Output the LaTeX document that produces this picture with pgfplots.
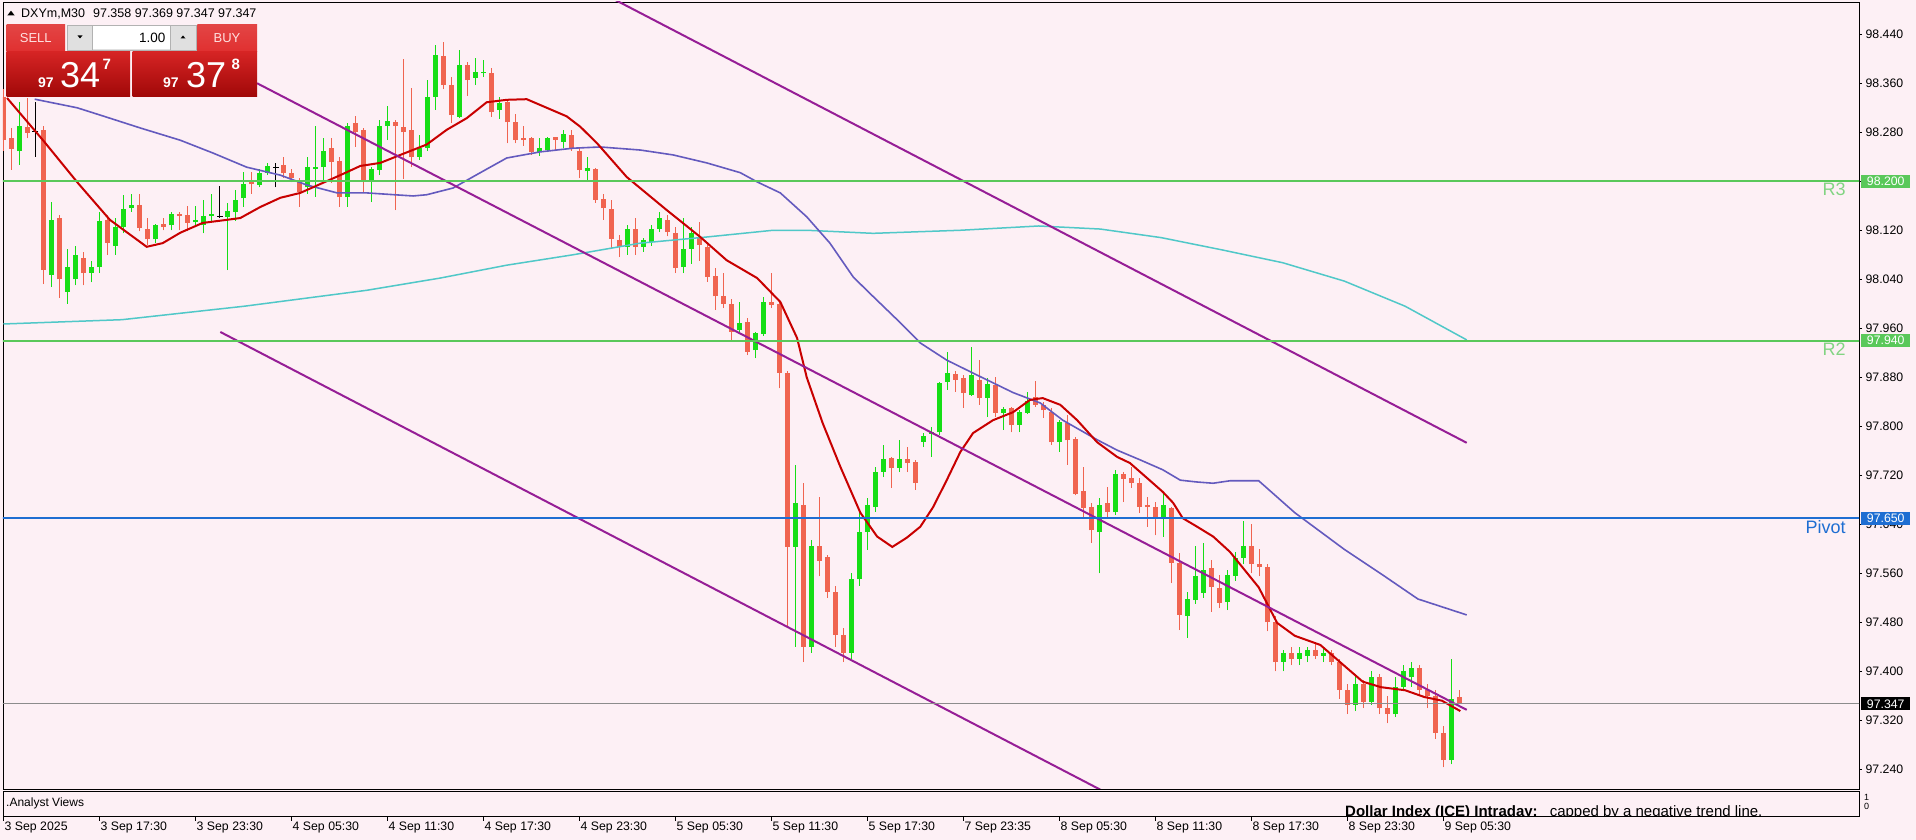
\documentclass[border=0pt]{standalone}
\usepackage{pgfplots}
\pgfplotsset{compat=1.18}
\usepackage{pgfplotstable}
\usepackage{fontspec}
\setmainfont{Liberation Sans}

\definecolor{bg}{RGB}{253,240,245}
\definecolor{bull}{RGB}{22,222,22}
\definecolor{bear}{RGB}{240,100,80}
\definecolor{maRed}{RGB}{200,0,0}
\definecolor{maBlue}{RGB}{100,90,190}
\definecolor{maCyan}{RGB}{80,200,200}
\definecolor{chan}{RGB}{150,30,150}
\definecolor{lvlGreen}{RGB}{90,200,90}
\definecolor{lvlText}{RGB}{130,212,130}
\definecolor{pivotBlue}{RGB}{30,110,210}
\definecolor{btnRed}{RGB}{224,48,48}

% DXYm M30 candles: index, open, high, low, close
\pgfplotstableread{
i o h l c
0 98.337 98.350 98.250 98.267
1 98.271 98.287 98.219 98.253
2 98.249 98.329 98.227 98.291
3 98.289 98.336 98.270 98.279
4 98.281 98.330 98.240 98.281
5 98.283 98.290 98.032 98.055
6 98.047 98.166 98.027 98.136
7 98.140 98.145 98.010 98.040
8 98.020 98.090 98.000 98.060
9 98.040 98.095 98.030 98.080
10 98.075 98.085 98.030 98.050
11 98.050 98.070 98.035 98.060
12 98.060 98.150 98.050 98.135
13 98.137 98.145 98.080 98.100
14 98.095 98.140 98.080 98.125
15 98.125 98.178 98.115 98.155
16 98.157 98.180 98.150 98.162
17 98.162 98.180 98.118 98.124
18 98.122 98.140 98.096 98.105
19 98.105 98.130 98.100 98.128
20 98.130 98.140 98.120 98.125
21 98.128 98.150 98.120 98.146
22 98.147 98.150 98.120 98.143
23 98.145 98.160 98.118 98.132
24 98.133 98.160 98.125 98.137
25 98.128 98.170 98.115 98.143
26 98.143 98.180 98.135 98.146
27 98.142 98.192 98.140 98.142
28 98.142 98.165 98.055 98.152
29 98.150 98.185 98.135 98.170
30 98.172 98.215 98.158 98.196
31 98.199 98.215 98.180 98.195
32 98.194 98.220 98.190 98.213
33 98.214 98.230 98.210 98.225
34 98.223 98.230 98.190 98.223
35 98.226 98.240 98.205 98.213
36 98.214 98.220 98.198 98.206
37 98.199 98.206 98.158 98.183
38 98.190 98.240 98.180 98.223
39 98.220 98.290 98.175 98.223
40 98.223 98.270 98.200 98.250
41 98.254 98.270 98.197 98.232
42 98.233 98.240 98.158 98.174
43 98.174 98.295 98.158 98.291
44 98.295 98.306 98.256 98.280
45 98.284 98.287 98.183 98.202
46 98.202 98.223 98.166 98.220
47 98.219 98.300 98.210 98.290
48 98.290 98.323 98.267 98.298
49 98.296 98.300 98.153 98.290
50 98.289 98.400 98.204 98.280
51 98.284 98.352 98.223 98.239
52 98.240 98.275 98.235 98.255
53 98.254 98.366 98.250 98.338
54 98.338 98.422 98.317 98.406
55 98.404 98.427 98.350 98.357
56 98.357 98.370 98.295 98.308
57 98.305 98.414 98.303 98.390
58 98.390 98.395 98.340 98.365
59 98.369 98.402 98.357 98.378
60 98.376 98.398 98.370 98.378
61 98.377 98.385 98.305 98.313
62 98.317 98.337 98.302 98.327
63 98.330 98.333 98.262 98.296
64 98.297 98.310 98.262 98.267
65 98.271 98.290 98.258 98.267
66 98.270 98.272 98.243 98.247
67 98.248 98.270 98.242 98.255
68 98.251 98.272 98.247 98.270
69 98.272 98.273 98.249 98.268
70 98.264 98.284 98.255 98.277
71 98.276 98.283 98.250 98.254
72 98.250 98.255 98.205 98.218
73 98.216 98.240 98.200 98.222
74 98.220 98.222 98.165 98.170
75 98.171 98.180 98.137 98.156
76 98.155 98.170 98.091 98.106
77 98.104 98.112 98.076 98.093
78 98.093 98.128 98.080 98.122
79 98.122 98.140 98.080 98.093
80 98.093 98.108 98.085 98.104
81 98.101 98.128 98.095 98.122
82 98.122 98.150 98.117 98.140
83 98.136 98.145 98.110 98.117
84 98.115 98.125 98.050 98.058
85 98.060 98.140 98.050 98.090
86 98.090 98.125 98.065 98.115
87 98.107 98.133 98.070 98.096
88 98.093 98.100 98.036 98.044
89 98.045 98.058 97.990 98.012
90 98.012 98.050 97.993 98.000
91 98.000 98.008 97.938 97.954
92 97.957 98.003 97.953 97.968
93 97.970 97.976 97.916 97.922
94 97.924 97.954 97.911 97.952
95 97.951 98.011 97.948 98.003
96 98.003 98.050 97.993 97.998
97 98.000 98.003 97.862 97.887
98 97.887 97.890 97.470 97.603
99 97.603 97.737 97.440 97.675
100 97.672 97.708 97.415 97.440
101 97.440 97.615 97.430 97.605
102 97.605 97.685 97.555 97.580
103 97.587 97.590 97.520 97.530
104 97.530 97.540 97.440 97.460
105 97.460 97.470 97.415 97.430
106 97.430 97.560 97.420 97.550
107 97.550 97.665 97.540 97.627
108 97.627 97.683 97.598 97.672
109 97.668 97.733 97.660 97.725
110 97.725 97.770 97.717 97.747
111 97.748 97.750 97.700 97.732
112 97.732 97.778 97.725 97.747
113 97.747 97.766 97.725 97.740
114 97.742 97.745 97.696 97.707
115 97.774 97.789 97.766 97.784
116 97.787 97.799 97.750 97.791
117 97.790 97.872 97.785 97.870
118 97.872 97.921 97.860 97.887
119 97.886 97.890 97.856 97.876
120 97.879 97.884 97.830 97.854
121 97.851 97.930 97.850 97.884
122 97.876 97.908 97.835 97.846
123 97.846 97.879 97.815 97.869
124 97.867 97.880 97.815 97.822
125 97.822 97.832 97.794 97.829
126 97.830 97.832 97.790 97.802
127 97.802 97.827 97.790 97.823
128 97.822 97.856 97.820 97.841
129 97.848 97.874 97.832 97.835
130 97.834 97.840 97.814 97.826
131 97.823 97.830 97.770 97.774
132 97.774 97.810 97.758 97.807
133 97.805 97.818 97.737 97.777
134 97.780 97.783 97.687 97.690
135 97.695 97.733 97.650 97.666
136 97.668 97.675 97.610 97.630
137 97.627 97.683 97.560 97.672
138 97.675 97.701 97.650 97.660
139 97.660 97.728 97.655 97.722
140 97.722 97.726 97.676 97.714
141 97.715 97.733 97.700 97.707
142 97.708 97.715 97.658 97.668
143 97.672 97.685 97.636 97.668
144 97.668 97.677 97.622 97.650
145 97.650 97.690 97.620 97.672
146 97.667 97.668 97.544 97.577
147 97.577 97.593 97.467 97.492
148 97.490 97.530 97.455 97.518
149 97.516 97.605 97.510 97.556
150 97.528 97.610 97.520 97.566
151 97.569 97.582 97.497 97.538
152 97.536 97.557 97.503 97.512
153 97.513 97.565 97.500 97.557
154 97.556 97.595 97.548 97.585
155 97.585 97.645 97.575 97.605
156 97.605 97.640 97.560 97.575
157 97.575 97.600 97.555 97.570
158 97.570 97.575 97.465 97.480
159 97.480 97.490 97.400 97.415
160 97.415 97.435 97.400 97.430
161 97.430 97.440 97.410 97.420
162 97.420 97.440 97.410 97.430
163 97.425 97.440 97.415 97.435
164 97.435 97.445 97.420 97.425
165 97.425 97.440 97.415 97.430
166 97.430 97.435 97.410 97.415
167 97.415 97.420 97.355 97.370
168 97.370 97.380 97.330 97.345
169 97.345 97.395 97.335 97.380
170 97.380 97.385 97.340 97.350
171 97.350 97.400 97.345 97.390
172 97.390 97.395 97.330 97.340
173 97.340 97.360 97.315 97.330
174 97.330 97.390 97.325 97.375
175 97.375 97.410 97.370 97.400
176 97.390 97.415 97.375 97.405
177 97.405 97.410 97.360 97.370
178 97.370 97.380 97.340 97.360
179 97.360 97.370 97.290 97.300
180 97.300 97.310 97.243 97.255
181 97.255 97.420 97.248 97.355
182 97.358 97.369 97.347 97.347
}\candles

\begin{document}
\begin{tikzpicture}[x=1pt,y=1pt]
\fill[bg] (0,0) rectangle (1916,840);
\useasboundingbox (0,0) rectangle (1916,840);

% main price chart
\begin{axis}[
  at={(3pt,51pt)}, anchor=south west,
  scale only axis, width=1856pt, height=787pt,
  xmin=-0.0625, xmax=231.94, ymin=97.2078, ymax=98.4927,
  enlargelimits=false, clip mode=individual,
  axis line style={black, line width=0.8pt},
  xtick=\empty,
  ytick={97.24,97.32,97.40,97.48,97.56,97.64,97.72,97.80,97.88,97.96,98.04,98.12,98.20,98.28,98.36,98.44},
  ytick pos=right, yticklabel pos=right, tick align=outside,
  major tick length=3pt, tick style={black, line width=0.6pt},
  scaled y ticks=false,
  yticklabel style={font=\fontsize{12.3}{14}\selectfont,
    /pgf/number format/.cd, fixed, fixed zerofill, precision=3, 1000 sep={}, assume math mode=true},
]
% bull candles
\addplot[forget plot, draw=none, mark=none,
  restrict expr to domain={\thisrow{c}-\thisrow{o}}{0.0000001:10},
  error bars/.cd, y dir=plus, y explicit, error mark=none,
  error bar style={draw=bull, line width=1pt}]
  table[x=i, y=l, y error expr=\thisrow{h}-\thisrow{l}] {\candles};
\addplot[forget plot, draw=none, mark=none,
  restrict expr to domain={\thisrow{c}-\thisrow{o}}{0.0000001:10},
  error bars/.cd, y dir=plus, y explicit, error mark=none,
  error bar style={draw=bull, line width=5pt}]
  table[x=i, y=o, y error expr=\thisrow{c}-\thisrow{o}] {\candles};
% bear candles
\addplot[forget plot, draw=none, mark=none,
  restrict expr to domain={\thisrow{c}-\thisrow{o}}{-10:-0.0000001},
  error bars/.cd, y dir=plus, y explicit, error mark=none,
  error bar style={draw=bear, line width=1pt}]
  table[x=i, y=l, y error expr=\thisrow{h}-\thisrow{l}] {\candles};
\addplot[forget plot, draw=none, mark=none,
  restrict expr to domain={\thisrow{c}-\thisrow{o}}{-10:-0.0000001},
  error bars/.cd, y dir=plus, y explicit, error mark=none,
  error bar style={draw=bear, line width=5pt}]
  table[x=i, y=c, y error expr=\thisrow{o}-\thisrow{c}] {\candles};
% doji
\addplot[forget plot, draw=none, mark=none,
  restrict expr to domain={\thisrow{c}-\thisrow{o}}{-0.0000001:0.0000001},
  error bars/.cd, y dir=plus, y explicit, error mark=none,
  error bar style={draw=black, line width=1pt}]
  table[x=i, y=l, y error expr=\thisrow{h}-\thisrow{l}] {\candles};
\addplot[forget plot, only marks, mark=-, mark size=3pt, black, mark options={line width=1pt},
  restrict expr to domain={\thisrow{c}-\thisrow{o}}{-0.0000001:0.0000001}]
  table[x=i, y=o] {\candles};

% slow MA
\addplot[maCyan, line width=1.5pt] coordinates {
(0,97.967) (14.8,97.974) (30.1,97.996) (45.4,98.022) (54.6,98.042) (62.9,98.063)
(71.2,98.080) (79.6,98.099) (87.9,98.109) (96.2,98.120) (100.4,98.120) (108.7,98.115)
(119.6,98.120) (129.4,98.127) (137.1,98.122) (144.7,98.108) (152.3,98.088) (159.9,98.067)
(167.6,98.037) (175.2,97.996) (182.9,97.941)};
% medium MA
\addplot[maBlue, line width=1.6pt] coordinates {
(3.9,98.334) (9.2,98.320) (12.1,98.308) (17.1,98.287) (22.1,98.267) (26.2,98.246)
(30.4,98.223) (34.6,98.210) (37.9,98.194) (41.7,98.181) (45.4,98.181) (51.2,98.176)
(52.9,98.178) (56.2,98.189) (59.6,98.214) (62.9,98.238) (67.1,98.248) (71.2,98.254)
(74.6,98.256) (79.6,98.251) (83.7,98.243) (87.9,98.230) (92.1,98.214) (94.2,98.199)
(97.1,98.181) (100.4,98.142) (103.3,98.099) (106.2,98.044) (107.9,98.022) (112.1,97.969)
(114.6,97.936) (117.9,97.908) (122.1,97.881) (126.2,97.855) (129.6,97.838) (132.4,97.810)
(136.7,97.778) (139.2,97.761) (142.1,97.745) (144.9,97.729) (147.1,97.712) (149.2,97.709)
(151.2,97.707) (153.3,97.711) (156.9,97.711) (161.4,97.659) (167.6,97.599) (172.2,97.559)
(176.8,97.518) (182.9,97.492)};
% fast MA
\addplot[maRed, line width=2pt] coordinates {
(0.44,98.336) (4.94,98.267) (9.31,98.197) (13.3,98.137) (17.9,98.093) (19.9,98.099)
(22.1,98.116) (24.9,98.132) (27.9,98.137) (29.6,98.140) (32.1,98.158) (34.6,98.173)
(37.1,98.181) (42.1,98.210) (44.6,98.225) (47.1,98.230) (49.6,98.243) (52.9,98.260)
(55.4,98.284) (57.9,98.303) (60.4,98.329) (62.9,98.333) (65.4,98.334) (67.9,98.320)
(70.4,98.306) (72.1,98.289) (74.2,98.262) (77.9,98.207) (82.9,98.153) (87.1,98.109)
(90.4,98.071) (94.2,98.042) (97.1,98.003) (99.2,97.944) (100.4,97.880) (102.4,97.805)
(104.6,97.734) (107.1,97.659) (109.2,97.620) (111.1,97.603) (112.9,97.618) (114.6,97.636)
(116.2,97.668) (117.9,97.712) (119.6,97.758) (121.2,97.789) (123.7,97.810) (126.2,97.823)
(128.3,97.843) (129.9,97.846) (132.1,97.835) (134.2,97.810) (136.7,97.774) (139.2,97.750)
(140.8,97.740) (142.9,97.716) (144.9,97.693) (146.2,97.675) (147.4,97.650) (149.2,97.636)
(151.2,97.620) (153.3,97.595) (156.9,97.537) (159.2,97.479) (161.4,97.458) (164.6,97.443)
(167.6,97.409) (169.9,97.383) (172.2,97.374) (175.2,97.369) (177.6,97.358) (179.8,97.352)
(182.1,97.335)};

% descending channel
\addplot[chan, line width=2pt] coordinates {(70,98.540) (182.9,97.773)};
\addplot[chan, line width=2pt] coordinates {(31.7,98.360) (182.9,97.337)};
\addplot[chan, line width=2pt] coordinates {(27.1,97.954) (140,97.187)};

% levels
\addplot[lvlGreen, line width=2pt] coordinates {(-1,98.200) (233,98.200)};
\addplot[lvlGreen, line width=2pt] coordinates {(-1,97.940) (233,97.940)};
\addplot[pivotBlue, line width=2pt] coordinates {(-1,97.650) (233,97.650)};
\addplot[black!45, line width=0.9pt] coordinates {(-1,97.347) (233,97.347)};

\node[anchor=north east, inner sep=0pt, text=lvlText, font=\fontsize{18}{18}\selectfont] at (axis cs:230.3,98.197) {R3};
\node[anchor=north east, inner sep=0pt, text=lvlText, font=\fontsize{18}{18}\selectfont] at (axis cs:230.3,97.937) {R2};
\node[anchor=north east, inner sep=0pt, text=pivotBlue, font=\fontsize{18}{18}\selectfont] at (axis cs:230.3,97.647) {Pivot};
\end{axis}

% indicator sub-window with time axis
\begin{axis}[
  at={(3pt,23.3pt)}, anchor=south west,
  scale only axis, width=1856pt, height=25pt,
  xmin=-0.0625, xmax=231.94, ymin=0, ymax=1,
  enlargelimits=false,
  axis line style={black, line width=0.8pt},
  ytick=\empty,
  xtick={0,12,24,36,48,60,72,84,96,108,120,132,144,156,168,180},
  xticklabels={3 Sep 2025,3 Sep 17:30,3 Sep 23:30,4 Sep 05:30,4 Sep 11:30,4 Sep 17:30,4 Sep 23:30,5 Sep 05:30,5 Sep 11:30,5 Sep 17:30,7 Sep 23:35,8 Sep 05:30,8 Sep 11:30,8 Sep 17:30,8 Sep 23:30,9 Sep 05:30},
  xtick pos=bottom, tick align=outside, major tick length=4pt,
  tick style={black, line width=0.6pt},
  xticklabel style={anchor=north west, inner sep=1pt, font=\fontsize{12.3}{14}\selectfont},
]
\end{axis}

% price tags on the right scale
\node[anchor=west, fill=lvlGreen, text=white, inner sep=0pt, minimum width=49pt, minimum height=13pt, font=\fontsize{12.3}{13}\selectfont] at (1861,658.7) {98.200};
\node[anchor=west, fill=lvlGreen, text=white, inner sep=0pt, minimum width=49pt, minimum height=13pt, font=\fontsize{12.3}{13}\selectfont] at (1861,499.4) {97.940};
\node[anchor=west, fill=pivotBlue, text=white, inner sep=0pt, minimum width=49pt, minimum height=13pt, font=\fontsize{12.3}{13}\selectfont] at (1861,321.8) {97.650};
\node[anchor=west, fill=black, text=white, inner sep=0pt, minimum width=49pt, minimum height=13pt, font=\fontsize{12.3}{13}\selectfont] at (1861,136.2) {97.347};

% sub-window texts
\node[anchor=west, inner sep=0pt, font=\fontsize{12}{13}\selectfont] at (6,37) {.Analyst Views};
\node[anchor=west, inner sep=0pt, font=\fontsize{9}{9}\selectfont] at (1864,42.5) {1};
\node[anchor=west, inner sep=0pt, font=\fontsize{9}{9}\selectfont] at (1864,33.5) {0};
\begin{scope}
\clip (3,23.3) rectangle (1859,48.3);
\node[anchor=base west, inner sep=0pt, font=\fontsize{15}{16}\selectfont] at (1345,23.6)
  {\textbf{Dollar Index (ICE) Intraday:}\hspace{12pt}capped by a negative trend line.};
\end{scope}

% header
\fill[black] (7.3,824.5) -- (14.7,824.5) -- (11,829.3) -- cycle;
\node[anchor=base west, inner sep=0pt, font=\fontsize{12.5}{14}\selectfont] at (21,822.7)
  {DXYm,M30\hspace{8pt}97.358 97.369 97.347 97.347};

% one-click trading panel
\shade[top color=btnRed!90!white, bottom color=btnRed] (6.7,788.3) rectangle (65,815);
\shade[top color=btnRed!90!white, bottom color=btnRed] (197.3,788.3) rectangle (257,815);
\fill[black!12] (67,790) rectangle (196,815);
\fill[white] (92.7,790.5) rectangle (170.7,814.5);
\draw[black!30, line width=0.6pt] (67,790) rectangle (196,815);
\draw[black!30, line width=0.6pt] (92.7,790) -- (92.7,815) (170.7,790) -- (170.7,815);
\fill[black] (77.5,804.5) -- (82.5,804.5) -- (80,801.5) -- cycle;
\fill[black] (180.5,801.5) -- (185.5,801.5) -- (183,804.5) -- cycle;
\node[text=red!12!white, font=\fontsize{13}{14}\selectfont] at (35.8,801.7) {SELL};
\node[text=red!12!white, font=\fontsize{13}{14}\selectfont] at (227,801.7) {BUY};
\node[anchor=east, inner sep=0pt, font=\fontsize{13.5}{14}\selectfont] at (165.5,802.5) {1.00};
\shade[top color={rgb,255:red,214;green,36;blue,36}, bottom color={rgb,255:red,160;green,8;blue,8}] (6.7,743.3) rectangle (130,788.3);
\shade[top color={rgb,255:red,214;green,36;blue,36}, bottom color={rgb,255:red,160;green,8;blue,8}] (132.7,743.3) rectangle (257,788.3);
\node[anchor=base west, inner sep=0pt, text=white, font=\fontsize{14}{14}\selectfont\bfseries] at (38,752.7) {97};
\node[anchor=base west, inner sep=0pt, text=white, font=\fontsize{36}{36}\selectfont] at (60,752.7) {34};
\node[anchor=base west, inner sep=0pt, text=white, font=\fontsize{15}{15}\selectfont\bfseries] at (102.5,770) {7};
\node[anchor=base west, inner sep=0pt, text=white, font=\fontsize{14}{14}\selectfont\bfseries] at (163,752.7) {97};
\node[anchor=base west, inner sep=0pt, text=white, font=\fontsize{36}{36}\selectfont] at (186,752.7) {37};
\node[anchor=base west, inner sep=0pt, text=white, font=\fontsize{15}{15}\selectfont\bfseries] at (231.5,770) {8};
\end{tikzpicture}
\end{document}
